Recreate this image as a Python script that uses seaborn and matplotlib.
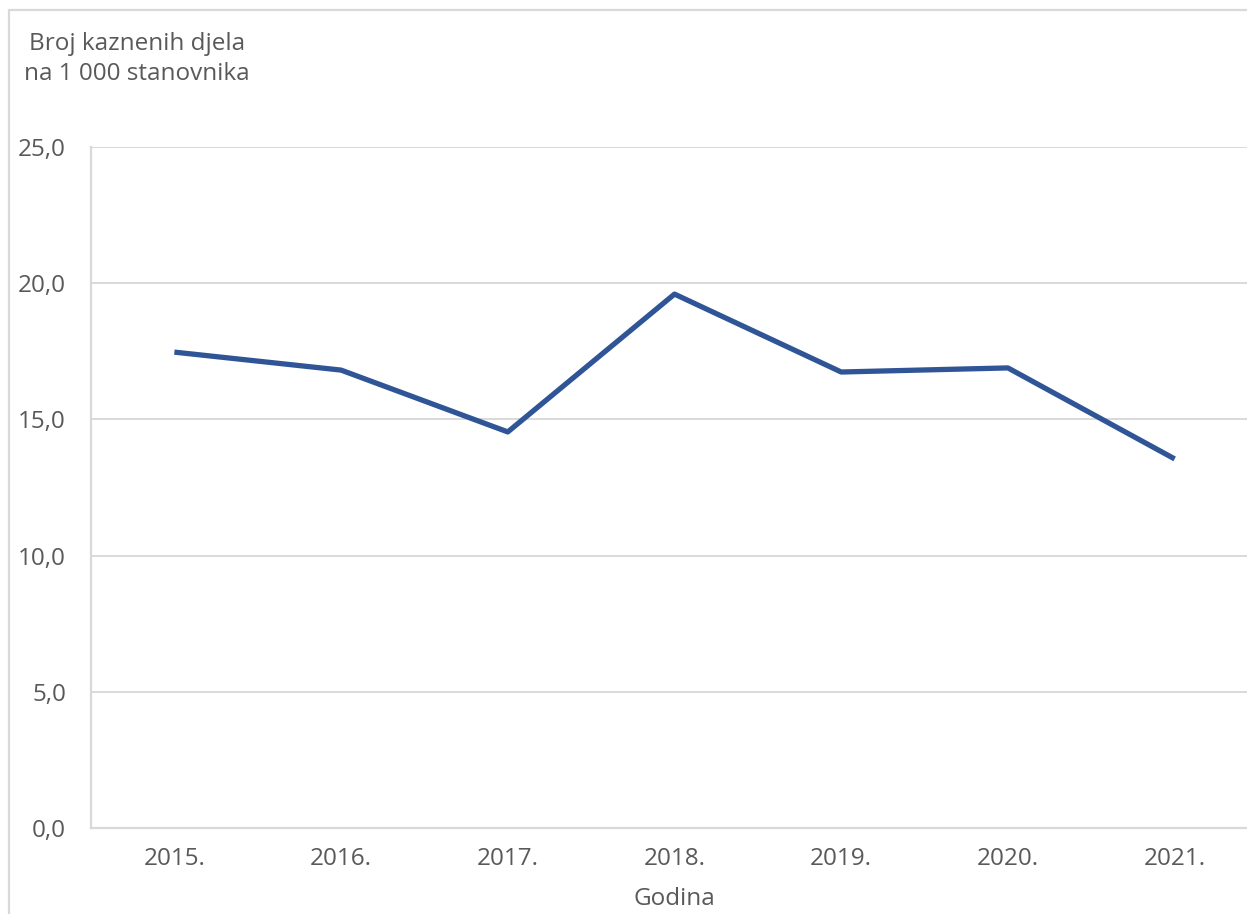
import matplotlib
matplotlib.use("Agg")
import matplotlib.pyplot as plt
import seaborn as sns
import pandas as pd
from matplotlib.patches import Rectangle

# data
godine = ["2015.", "2016.", "2017.", "2018.", "2019.", "2020.", "2021."]
stopa = [17.47, 16.81, 14.54, 19.60, 16.74, 16.89, 13.55]
y_ticks = [0, 5, 10, 15, 20, 25]

df = pd.DataFrame({"godina": godine, "stopa": stopa})

sns.set_style("white")
plt.rcParams["font.family"] = ["Open Sans", "DejaVu Sans"]

grey_txt = "#595959"
grid_col = "#d9d9d9"
fs = 17.5

fig = plt.figure(figsize=(12.47, 9.14), dpi=100)
ax = fig.add_axes([91 / 1247, 86 / 914, 1167 / 1247, 681 / 914])

sns.lineplot(data=df, x="godina", y="stopa", sort=False, ax=ax,
             color="#2f5597", linewidth=3.8, solid_capstyle="butt")

ax.set_xlim(-0.5, len(godine) - 0.5)
ax.set_ylim(0, 25)
ax.set_yticks(y_ticks)
ax.set_yticklabels([f"{v:.1f}".replace(".", ",") for v in y_ticks])
ax.yaxis.grid(True, color=grid_col, linewidth=1.4)
ax.set_axisbelow(True)

for s in ["top", "right"]:
    ax.spines[s].set_visible(False)
for s in ["left", "bottom"]:
    ax.spines[s].set_color(grid_col)
    ax.spines[s].set_linewidth(1.6)

ax.tick_params(axis="y", length=0, pad=18, labelsize=fs, labelcolor=grey_txt)
ax.tick_params(axis="x", length=0, pad=14, labelsize=fs, labelcolor=grey_txt)
ax.set_xlabel("")
ax.set_ylabel("")

fig.text(137 / 1247, 1 - 59 / 914, "Broj kaznenih djela\nna 1 000 stanovnika",
         ha="center", va="center", fontsize=fs, color=grey_txt, linespacing=1.3)
fig.text(674 / 1247, 1 - 899 / 914, "Godina", ha="center", va="center",
         fontsize=fs, color=grey_txt)

# outer chart border
fig.patches.append(Rectangle((9 / 1247, -0.1), 1.2, 1.1 - 10 / 914,
                             transform=fig.transFigure, fill=False,
                             edgecolor=grid_col, linewidth=1.6))

fig.savefig("out.png", dpi=100, facecolor="white")
